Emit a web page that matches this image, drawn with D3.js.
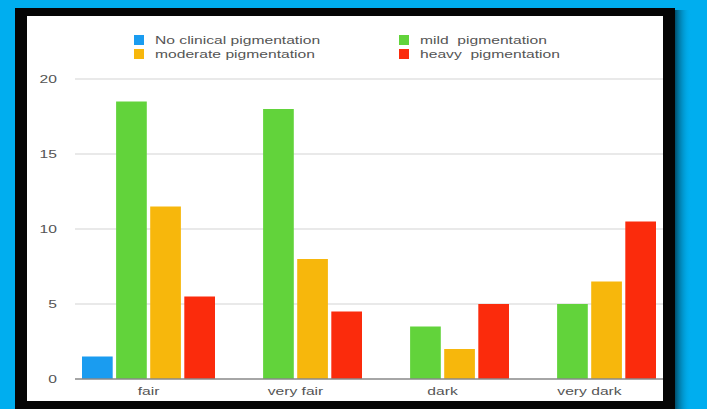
<!DOCTYPE html>
<html>
<head>
<meta charset="utf-8">
<script src="https://cdn.jsdelivr.net/npm/d3@7"></script>
<style>
  html, body { margin: 0; padding: 0; background: #00aeef; }
  svg { display: block; }
  text { font-family: "Liberation Sans", Arial, Helvetica, sans-serif; }
</style>
</head>
<body>
<svg id="chart" width="707" height="409"></svg>
<script>
// ---- data ----
const categories = ["fair", "very fair", "dark", "very dark"];
const seriesNames = ["No clinical pigmentation", "mild  pigmentation", "moderate pigmentation", "heavy  pigmentation"];
const noClinical = [1.5, 0, 0, 0];
const mild = [18.5, 18, 3.5, 5];
const moderate = [11.5, 8, 2, 6.5];
const heavy = [5.5, 4.5, 5, 10.5];
const yTicks = [0, 5, 10, 15, 20];
const seriesColors = ["#1a9cf0", "#62d33b", "#f7b70c", "#fb2b0c"];

const seriesValues = [noClinical, mild, moderate, heavy];
const stretch = "scale(1.36,1)";
const fontSize = 11.5;

const svg = d3.select("#chart");

// background + frame
const defs = svg.append("defs");
const grad = defs.append("linearGradient").attr("id", "shadow").attr("x1", 0).attr("x2", 1);
grad.append("stop").attr("offset", 0).attr("stop-color", "#000").attr("stop-opacity", 0.55);
grad.append("stop").attr("offset", 1).attr("stop-color", "#00aeef").attr("stop-opacity", 0);
svg.append("rect").attr("x", 0).attr("y", 0).attr("width", 707).attr("height", 409).attr("fill", "#00aeef");
svg.append("rect").attr("x", 675).attr("y", 10).attr("width", 16).attr("height", 399).attr("fill", "url(#shadow)");
svg.append("rect").attr("x", 15).attr("y", 8).attr("width", 660).attr("height", 401).attr("fill", "#050505");
svg.append("rect").attr("x", 27).attr("y", 16).attr("width", 636).attr("height", 385).attr("fill", "#ffffff");

// scales
const x0 = d3.scaleBand().domain(categories).range([75, 663]).paddingInner(0).paddingOuter(0);
const x1 = d3.scaleBand().domain(d3.range(seriesNames.length)).range([7, x0.bandwidth() - 7]).paddingInner(0.1).paddingOuter(0);
const y = d3.scaleLinear().domain([0, 20]).range([379, 79]);

// gridlines
const grid = svg.append("g");
grid.selectAll("line").data(yTicks.filter(t => t !== 0)).join("line")
  .attr("x1", 75).attr("x2", 663)
  .attr("y1", d => y(d)).attr("y2", d => y(d))
  .attr("stroke", "#d4d4d4").attr("stroke-width", 1.2);

// y-axis labels
const yAxis = svg.append("g").attr("transform", "translate(57,0)")
  .call(d3.axisLeft(y).tickValues(yTicks).tickSize(0).tickPadding(0));
yAxis.select(".domain").remove();
yAxis.selectAll("text").attr("fill", "#555").attr("font-size", fontSize).attr("transform", stretch);

// bars
const groups = svg.append("g").selectAll("g").data(categories).join("g")
  .attr("transform", d => `translate(${x0(d)},0)`);
groups.selectAll("rect")
  .data((c, ci) => seriesValues.map((vals, si) => ({ si, v: vals[ci] })).filter(d => d.v > 0))
  .join("rect")
  .attr("x", d => x1(d.si))
  .attr("width", x1.bandwidth())
  .attr("y", d => y(d.v))
  .attr("height", d => y(0) - y(d.v))
  .attr("fill", d => seriesColors[d.si]);

// baseline
svg.append("line").attr("x1", 75).attr("x2", 663).attr("y1", y(0)).attr("y2", y(0))
  .attr("stroke", "#888").attr("stroke-width", 1.6);

// x-axis labels
const xAxis = svg.append("g").attr("transform", `translate(0,${y(0)})`)
  .call(d3.axisBottom(x0).tickSize(0).tickPadding(8));
xAxis.select(".domain").remove();
xAxis.selectAll("text").attr("fill", "#555").attr("font-size", fontSize).attr("transform", stretch);

// legend
const legendPos = [
  { x: 134, y: 40 }, { x: 399, y: 40 },
  { x: 134, y: 54 }, { x: 399, y: 54 }
];
const legend = svg.append("g").selectAll("g").data(seriesNames).join("g")
  .attr("transform", (d, i) => `translate(${legendPos[i].x},${legendPos[i].y})`);
legend.append("rect").attr("x", 0).attr("y", -5).attr("width", 10).attr("height", 10)
  .attr("fill", (d, i) => seriesColors[i]);
legend.append("text")
  .attr("transform", `translate(21,0) ${stretch}`)
  .attr("dy", "0.35em")
  .attr("font-size", fontSize).attr("fill", "#555")
  .style("white-space", "pre").attr("xml:space", "preserve")
  .text(d => d);
</script>
</body>
</html>
